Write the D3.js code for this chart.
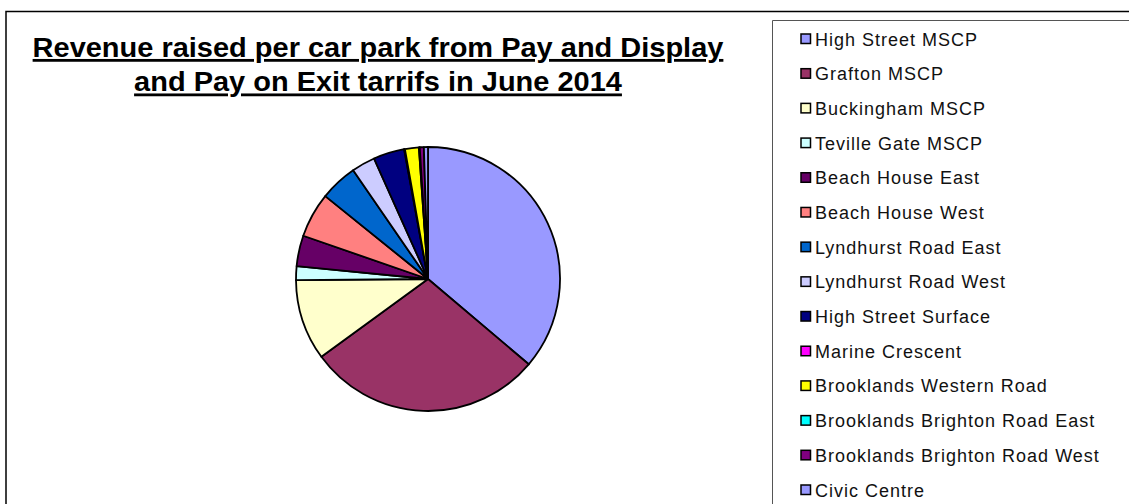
<!DOCTYPE html>
<html>
  <head>
    <meta charset="utf-8">
    <script src="https://d3js.org/d3.v7.min.js"></script>
    <style>
      body { margin: 0; background: #fff; }
      text { font-family: "Liberation Sans", Arial, sans-serif; }
    </style>
  </head>
  <body>
    <script>

      // car parks, in the order the pie draws them
      var carParks = ["High Street MSCP", "Grafton MSCP", "Buckingham MSCP", "Teville Gate MSCP",
                      "Beach House East", "Beach House West", "Lyndhurst Road East", "Lyndhurst Road West",
                      "High Street Surface", "Marine Crescent", "Brooklands Western Road",
                      "Brooklands Brighton Road East", "Brooklands Brighton Road West", "Civic Centre"];

      // share of revenue (%)
      var revenue = [36.2, 28.8, 9.9, 1.7, 3.75, 5.5, 4.6, 2.9, 3.8, 0.1, 1.7, 0.1, 0.5, 0.5];

      var colours = ["#9999ff", "#993366", "#ffffcc", "#ccffff", "#660066", "#ff8080", "#0066cc",
                     "#ccccff", "#000080", "#ff00ff", "#ffff00", "#00ffff", "#800080", "#9999ff"];

      var titleLines = ["Revenue raised per car park from Pay and Display",
                        "and Pay on Exit tarrifs in June 2014"];

      var w = 1129, h = 504;
      var svg = d3.select("body").append("svg")
        .attr("width", w)
        .attr("height", h);

      // outer chart border
      svg.append("path")
        .attr("d", "M6," + h + " V11.5 H" + w)
        .attr("fill", "none")
        .attr("stroke", "#000")
        .attr("stroke-width", 1.5);

      // title, underlined (a bit wider than Liberation Sans, so stretch it)
      var title = svg.append("text")
        .attr("transform", "translate(378,0) scale(1.035,1)")
        .attr("text-anchor", "middle")
        .attr("font-weight", "bold")
        .attr("font-size", 28)
        .attr("text-decoration", "underline");
      titleLines.forEach(function(line, i) {
        title.append("tspan")
          .attr("x", 0)
          .attr("y", 57 + i * 34.5)
          .text(line);
      });

      // pie
      var cx = 428, cy = 279, r = 132;
      var pie = d3.pie().sort(null).value(function(d) { return d; });
      var arc = d3.arc().innerRadius(0).outerRadius(r);
      var colour = d3.scaleOrdinal().domain(carParks).range(colours);

      svg.append("g")
        .attr("transform", "translate(" + cx + "," + cy + ")")
        .selectAll("path")
        .data(pie(revenue))
        .enter()
        .append("path")
        .attr("d", arc)
        .attr("fill", function(d, i) { return colour(carParks[i]); })
        .attr("stroke", "#000")
        .attr("stroke-width", 1.8)
        .attr("stroke-linejoin", "round");

      // legend box
      svg.append("path")
        .attr("d", "M772.5," + h + " V20.5 H" + w)
        .attr("fill", "none")
        .attr("stroke", "#555")
        .attr("stroke-width", 1);

      var legendY = d3.scalePoint()
        .domain(carParks)
        .range([39, 490]);

      var item = svg.append("g").selectAll("g")
        .data(carParks)
        .enter()
        .append("g")
        .attr("transform", function(d) { return "translate(0," + legendY(d) + ")"; });

      item.append("rect")
        .attr("x", 801)
        .attr("y", -5)
        .attr("width", 9.5)
        .attr("height", 9.5)
        .attr("fill", function(d) { return colour(d); })
        .attr("stroke", "#000")
        .attr("stroke-width", 1.5);

      item.append("text")
        .attr("x", 815)
        .attr("y", 6.5)
        .attr("font-size", 18)
        .attr("letter-spacing", 1)
        .attr("fill", "#111")
        .text(function(d) { return d; });

    </script>
  </body>
</html>
